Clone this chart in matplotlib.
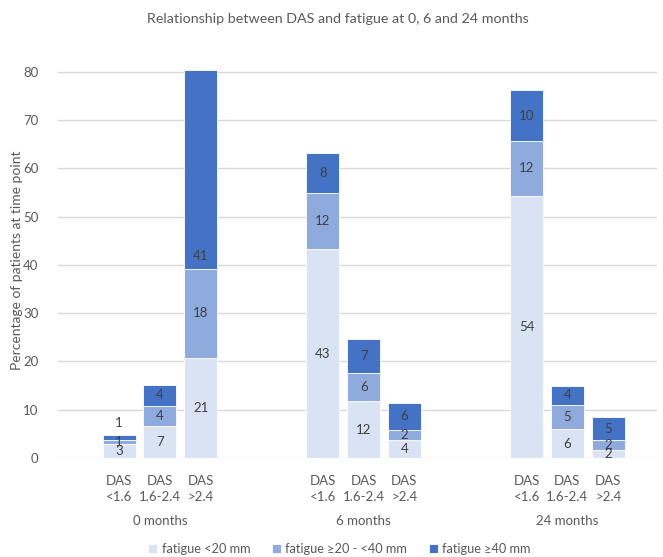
import matplotlib.pyplot as plt
import numpy as np

plt.rcParams['font.family'] = ['Lato', 'DejaVu Sans']

# data (percent of patients)
groups = ['0 months', '6 months', '24 months']
das_labels = ['DAS\n<1.6', 'DAS\n1.6-2.4', 'DAS\n>2.4']
series = ['fatigue <20 mm', 'fatigue \u226520 - <40 mm', 'fatigue \u226540 mm']
low = [2.9, 6.7, 20.8, 43.2, 11.8, 3.7, 54.2, 6.0, 1.7]
mid = [0.8, 4.1, 18.4, 11.6, 5.8, 2.1, 11.5, 5.0, 2.0]
high = [1.05, 4.4, 41.2, 8.3, 7.0, 5.6, 10.4, 3.9, 4.8]

colors = ['#DAE3F3', '#8FAADC', '#4472C4']
txt = '#404040'
grey = '#595959'

# slots: 3 bars per group, two empty slots between groups
x = np.array([0, 1, 2, 5, 6, 7, 10, 11, 12])

fig = plt.figure(figsize=(6.63, 5.57), dpi=100)
ax = fig.add_axes([0.0875, 0.1777, 0.9035, 0.711])

bottom = np.zeros(len(x))
for vals, c, name in zip([low, mid, high], colors, series):
    vals = np.array(vals)
    ax.bar(x, vals, width=0.81, bottom=bottom, color=c, label=name,
           edgecolor='white', linewidth=0.6, zorder=2)
    for xi, b, v in zip(x, bottom, vals):
        y = b + v / 2
        if name == series[2] and v < 1.5:
            y = b + v + 2.6  # tiny top segment: label sits above the bar
        elif name == series[2] and v > 30:
            y = b + 2.6  # label moved down near the segment base
        ax.text(xi, y, '%.0f' % v, ha='center', va='center', fontsize=9.5,
                color=txt, zorder=3)
    bottom += vals

ax.set_xlim(-1.5, 13.2)
ax.set_ylim(0, 82)
ax.set_yticks(range(0, 81, 10))
ax.yaxis.grid(True, color='#D9D9D9', linewidth=1)
ax.set_axisbelow(True)
for s in ax.spines.values():
    s.set_visible(False)
ax.tick_params(axis='y', length=0, pad=14, labelsize=9.5, labelcolor=grey)
ax.tick_params(axis='x', length=0, pad=12, labelsize=9.5, labelcolor=grey)
ax.set_xticks(x)
ax.set_xticklabels(das_labels * 3, linespacing=1.4)

# group labels under the middle bar of each group
for g, xc in zip(groups, [1, 6, 11]):
    ax.text(xc, -0.158, g, transform=ax.get_xaxis_transform(), ha='center',
            va='center', fontsize=9.5, color=grey)

ax.set_ylabel('Percentage of patients at time point', fontsize=10, color=grey)
ax.yaxis.set_label_coords(-0.058, 0.5)

fig.text(0.51, 0.966, 'Relationship between DAS and fatigue at 0, 6 and 24 months',
         ha='center', va='center', fontsize=10.3, color=grey)

fig.legend(loc='center', bbox_to_anchor=(0.512, 0.014), ncol=3, frameon=False,
           fontsize=9.2, handlelength=0.7, handleheight=0.7, handletextpad=0.35,
           columnspacing=1.7, labelcolor=grey)

fig.savefig('out.png', dpi=100)
